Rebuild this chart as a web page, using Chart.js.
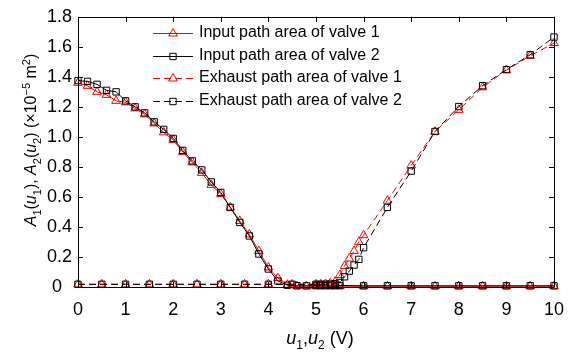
<!DOCTYPE html>
<html>
<head>
  <meta charset="utf-8">
  <title>Valve path area</title>
  <script src="https://cdn.jsdelivr.net/npm/chart.js@4.4.0/dist/chart.umd.min.js"></script>
  <style>
    body { margin: 0; background: #fff; }
  </style>
</head>
<body>
<canvas id="areaChart" width="576" height="353"></canvas>
<script>
// control voltage (V)
var uInput = [0, 0.2, 0.4, 0.6, 0.8, 1.0, 1.2, 1.4, 1.6, 1.8, 2.0, 2.2, 2.4, 2.6, 2.8, 3.0, 3.2, 3.4, 3.6, 3.8, 4.0, 4.2, 4.4,
              4.6, 4.8, 5.0, 5.1, 5.2, 5.3, 5.4, 5.5, 6, 6.5, 7, 7.5, 8, 8.5, 9, 9.5, 10];
var uExhaust = [0, 0.5, 1, 1.5, 2, 2.5, 3, 3.5, 4, 4.5, 5, 5.1, 5.2, 5.3, 5.4, 5.5, 5.6, 5.7, 5.8, 5.9, 6,
                6.5, 7, 7.5, 8, 8.5, 9, 9.5, 10];

// path areas (x1e-5 m^2)
var inputValve1 = [1.36, 1.34, 1.30, 1.28, 1.24, 1.23, 1.19, 1.15, 1.09, 1.03, 0.98, 0.90, 0.83, 0.76, 0.68, 0.62, 0.53, 0.44, 0.35, 0.24, 0.13, 0.06, 0.015,
                   0.006, 0.005, 0.005, 0.005, 0.005, 0.005, 0.005, 0.005, 0.005, 0.005, 0.005, 0.005, 0.005, 0.005, 0.005, 0.005, 0.005];
var inputValve2 = [1.375, 1.37, 1.35, 1.31, 1.30, 1.24, 1.20, 1.16, 1.10, 1.05, 0.99, 0.91, 0.84, 0.78, 0.70, 0.63, 0.53, 0.43, 0.34, 0.22, 0.12, 0.04, 0.012,
                   0.008, 0.008, 0.01, 0.01, 0.01, 0.01, 0.01, 0.01, 0.008, 0.008, 0.008, 0.008, 0.008, 0.008, 0.008, 0.008, 0.008];
var exhaustValve1 = [0.018, 0.018, 0.018, 0.018, 0.018, 0.018, 0.018, 0.018, 0.018, 0.018, 0.018, 0.018, 0.02, 0.025, 0.035, 0.08, 0.14, 0.19, 0.24, 0.30, 0.345,
                     0.575, 0.81, 1.035, 1.18, 1.33, 1.445, 1.54, 1.625];
var exhaustValve2 = [0.018, 0.018, 0.018, 0.018, 0.018, 0.018, 0.018, 0.018, 0.018, 0.018, 0.018, 0.018, 0.018, 0.02, 0.022, 0.03, 0.068, 0.106, 0.146, 0.184, 0.262,
                     0.53, 0.772, 1.036, 1.202, 1.341, 1.448, 1.547, 1.665];

var seriesNames = ['Input path area of valve 1', 'Input path area of valve 2',
                   'Exhaust path area of valve 1', 'Exhaust path area of valve 2'];

var FONT = "'Liberation Sans', Arial, sans-serif";

function pts(xs, ys) {
  return xs.map(function (x, i) { return { x: x, y: ys[i] }; });
}

function series(name, xs, ys, color, marker, dashed, order) {
  return {
    label: name,
    data: pts(xs, ys),
    borderColor: color,
    borderWidth: 1,
    borderDash: dashed ? [7, 4] : [],
    pointStyle: marker,
    pointRadius: marker === 'triangle' ? 5 : 4.5,
    pointBorderColor: color,
    pointBackgroundColor: 'rgba(0,0,0,0)',
    pointBorderWidth: 1,
    showLine: true,
    tension: 0,
    clip: false,
    order: order
  };
}

// draws a run of text pieces, some italic / sub- / superscript
function richText(ctx, parts, x, y, size) {
  var small = Math.round(size * 0.68);
  var total = 0;
  parts.forEach(function (p) {
    ctx.font = (p.i ? 'italic ' : '') + (p.s || p.u ? small : size) + 'px ' + FONT;
    p.w = ctx.measureText(p.t).width;
    total += p.w;
  });
  var cx = x - total / 2;
  parts.forEach(function (p) {
    ctx.font = (p.i ? 'italic ' : '') + (p.s || p.u ? small : size) + 'px ' + FONT;
    var dy = p.s ? size * 0.3 : (p.u ? -size * 0.4 : 0);
    ctx.fillText(p.t, cx, y + dy);
    cx += p.w;
  });
}

var framePlugin = {
  id: 'frame',
  afterDatasetsDraw: function (chart) {
    var ctx = chart.ctx;
    var a = chart.chartArea;
    var xs = chart.scales.x, ys = chart.scales.y;
    ctx.save();
    ctx.strokeStyle = '#000';
    ctx.lineWidth = 1;
    ctx.beginPath();
    ctx.rect(Math.round(a.left) + 0.5, Math.round(a.top) + 0.5,
             Math.round(a.right - a.left), Math.round(a.bottom - a.top));
    // inward ticks on every side
    xs.ticks.forEach(function (t) {
      var px = Math.round(xs.getPixelForValue(t.value)) + 0.5;
      ctx.moveTo(px, a.bottom); ctx.lineTo(px, a.bottom - 5);
      ctx.moveTo(px, a.top); ctx.lineTo(px, a.top + 5);
    });
    ys.ticks.forEach(function (t) {
      var py = Math.round(ys.getPixelForValue(t.value)) + 0.5;
      ctx.moveTo(a.left, py); ctx.lineTo(a.left + 5, py);
      ctx.moveTo(a.right, py); ctx.lineTo(a.right - 5, py);
    });
    ctx.stroke();

    // legend
    ctx.textBaseline = 'middle';
    ctx.textAlign = 'left';
    var rows = [33, 56, 78, 101];
    chart.data.datasets.forEach(function (ds, i) {
      var y = rows[i] + 0.5;
      ctx.strokeStyle = ds.borderColor;
      ctx.fillStyle = 'rgba(0,0,0,0)';
      ctx.setLineDash(ds.borderDash);
      ctx.beginPath();
      ctx.moveTo(153, y); ctx.lineTo(193, y);
      ctx.stroke();
      ctx.setLineDash([]);
      Chart.helpers.drawPoint(ctx, {
        pointStyle: ds.pointStyle, radius: ds.pointRadius, borderWidth: 1, rotation: 0
      }, 173, y);
      ctx.fillStyle = '#000';
      ctx.font = '16px ' + FONT;
      ctx.fillText(ds.label, 199, rows[i]);
    });

    // axis titles
    ctx.fillStyle = '#000';
    ctx.textBaseline = 'alphabetic';
    richText(ctx, [
      { t: 'u', i: true }, { t: '1', s: true }, { t: ',' },
      { t: 'u', i: true }, { t: '2', s: true }, { t: ' (V)' }
    ], 320, 344, 18);

    ctx.translate(36, 140);
    ctx.rotate(-Math.PI / 2);
    richText(ctx, [
      { t: 'A', i: true }, { t: '1', s: true }, { t: '(' }, { t: 'u', i: true }, { t: '1', s: true }, { t: '), ' },
      { t: 'A', i: true }, { t: '2', s: true }, { t: '(' }, { t: 'u', i: true }, { t: '2', s: true },
      { t: ') (\u00d710' }, { t: '\u22125', u: true }, { t: ' m' }, { t: '2', u: true }, { t: ')' }
    ], 0, 0, 16);
    ctx.restore();
  }
};

var ctx = document.getElementById('areaChart').getContext('2d');
var chart = new Chart(ctx, {
  type: 'scatter',
  data: {
    datasets: [
      series(seriesNames[0], uInput, inputValve1, '#ff0000', 'triangle', false, 3),
      series(seriesNames[1], uInput, inputValve2, '#000000', 'rect', false, 2),
      series(seriesNames[2], uExhaust, exhaustValve1, '#ff0000', 'triangle', true, 1),
      series(seriesNames[3], uExhaust, exhaustValve2, '#000000', 'rect', true, 0)
    ]
  },
  options: {
    responsive: false,
    animation: false,
    layout: { padding: { left: 0, right: 16, top: 16, bottom: 0 } },
    plugins: { legend: { display: false }, tooltip: { enabled: false } },
    scales: {
      x: {
        type: 'linear', min: 0, max: 10,
        grid: { display: false, drawTicks: false },
        border: { display: false },
        ticks: { stepSize: 1, color: '#000', padding: 12, font: { family: FONT, size: 18 } },
        afterFit: function (s) { s.height = 66; }
      },
      y: {
        min: 0, max: 1.8,
        grid: { display: false, drawTicks: false },
        border: { display: false },
        ticks: {
          stepSize: 0.2, color: '#000', padding: 6, font: { family: FONT, size: 18 },
          callback: function (v) { return Math.abs(v) < 1e-9 ? '0  ' : v.toFixed(1); }
        },
        afterFit: function (s) { s.width = 78; }
      }
    }
  },
  plugins: [framePlugin]
});
</script>
</body>
</html>
